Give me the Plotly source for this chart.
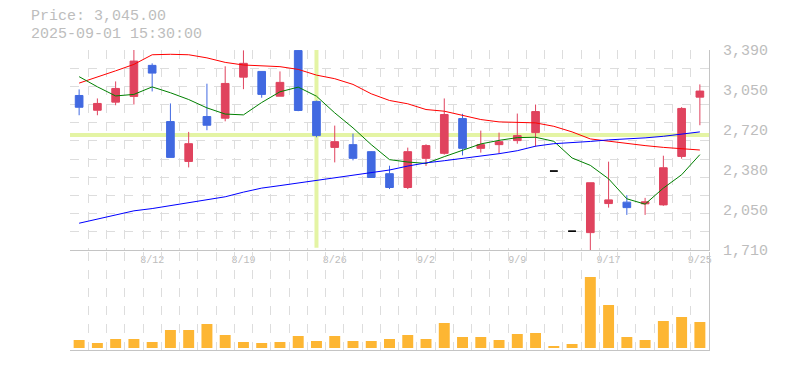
import plotly.graph_objects as go

# ---------------- data ----------------
dates = ["8/5", "8/6", "8/7", "8/8", "8/12", "8/13", "8/14", "8/15", "8/18", "8/19",
         "8/20", "8/21", "8/22", "8/25", "8/26", "8/27", "8/28", "8/29", "9/1", "9/2",
         "9/3", "9/4", "9/5", "9/8", "9/9", "9/10", "9/11", "9/12", "9/16", "9/17",
         "9/18", "9/19", "9/22", "9/24", "9/25"]

opens  = [3008, 2884, 2952, 3000, 3261, 2789, 2454, 2831, 2817, 3162,
          3210, 3002, 3385, 2958, 2572, 2595, 2536, 2351, 2235, 2480,
          2522, 2814, 2564, 2595, 2629, 2696, 2373, 1868, 1856, 2100,
          2112, 2098, 2089, 2496, 2994]
highs  = [3059, 2983, 3126, 3420, 3278, 2941, 2702, 3107, 3253, 3387,
          3210, 3210, 3400, 2965, 2755, 2688, 2540, 2418, 2570, 2598,
          2983, 2854, 2713, 2696, 2856, 2932, 2373, 1868, 2275, 2452,
          2171, 2148, 2502, 2910, 3101]
lows   = [2842, 2842, 2926, 2932, 3042, 2488, 2404, 2716, 2791, 3061,
          2989, 3002, 2876, 2657, 2446, 2463, 2315, 2222, 2222, 2416,
          2511, 2505, 2528, 2522, 2603, 2578, 2373, 1868, 1700, 2066,
          2005, 2005, 2081, 2477, 2758]
closes = [2909, 2941, 3067, 3297, 3196, 2488, 2603, 2758, 3109, 3278,
          3017, 3118, 2882, 2671, 2620, 2480, 2319, 2235, 2536, 2587,
          2848, 2564, 2595, 2620, 2671, 2873, 2373, 1868, 2275, 2131,
          2066, 2115, 2401, 2899, 3045]

ma_short = [3166, 3081, 3004, 3017, 3080, 3031, 2974, 2904, 2852, 2845,
            2949, 3039, 3078, 3002, 2862, 2736, 2595, 2469, 2449, 2437,
            2494, 2545, 2601, 2631, 2654, 2657, 2623, 2483, 2421, 2308,
            2140, 2095, 2230, 2342, 2511]
ma_mid   = [3112, 3162, 3215, 3269, 3350, 3354, 3350, 3324, 3286, 3264,
            3255, 3250, 3227, 3179, 3149, 3101, 3022, 2966, 2938, 2890,
            2876, 2840, 2806, 2786, 2781, 2778, 2749, 2702, 2643, 2623,
            2604, 2587, 2572, 2561, 2550]
ma_long  = [1935, 1969, 2009, 2039, 2058, 2083, 2106, 2129, 2157, 2196,
            2230, 2251, 2273, 2297, 2319, 2342, 2363, 2382, 2415, 2442,
            2460, 2479, 2498, 2519, 2544, 2582, 2603, 2610, 2622, 2635,
            2641, 2652, 2665, 2681, 2702]

volume = [80, 50, 90, 90, 60, 180, 180, 240, 130, 60,
          50, 60, 120, 70, 120, 70, 70, 90, 130, 90,
          250, 110, 110, 80, 140, 150, 20, 40, 710, 430,
          110, 80, 270, 310, 260]

flat_days = [26, 27]          # no-range sessions drawn as black dashes

x_tick_idx = [4, 9, 14, 19, 24, 29, 34]
x_tick_labels = [dates[i] for i in x_tick_idx]

y_min, y_max = 1710, 3390
y_tick_vals = [1710, 2046, 2382, 2718, 3054, 3390]
y_tick_labels = ["1,710", "2,050", "2,380", "2,720", "3,050", "3,390"]

cross_idx = 13
cross_price = 2677
info_price = "Price: 3,045.00"
info_time = "2025-09-01 15:30:00"

# ---------------- styles ----------------
FONT = "Liberation Mono"
GRAY_TXT = "#bdbdbd"
GRID = "#dddddd"
AXLINE = "#c4c4c4"
UP = "#e0435e"
DOWN = "#4169e1"
VOL = "#fdb633"
CROSS = "#e4f4a4"

n = len(dates)
xs = list(range(n))
main_idx = [i for i in xs if i not in flat_days]

fig = go.Figure()

fig.add_trace(go.Scatter(x=xs, y=ma_mid, mode="lines", line=dict(color="#ff0000", width=1),
                         xaxis="x", yaxis="y", hoverinfo="skip"))
fig.add_trace(go.Scatter(x=xs, y=ma_short, mode="lines", line=dict(color="#008000", width=1),
                         xaxis="x", yaxis="y", hoverinfo="skip"))
fig.add_trace(go.Scatter(x=xs, y=ma_long, mode="lines", line=dict(color="#0000ff", width=1),
                         xaxis="x", yaxis="y", hoverinfo="skip"))

fig.add_trace(go.Candlestick(
    x=main_idx,
    open=[opens[i] for i in main_idx], high=[highs[i] for i in main_idx],
    low=[lows[i] for i in main_idx], close=[closes[i] for i in main_idx],
    increasing=dict(line=dict(color=UP, width=1), fillcolor=UP),
    decreasing=dict(line=dict(color=DOWN, width=1), fillcolor=DOWN),
    whiskerwidth=0, xaxis="x", yaxis="y", hoverinfo="skip"))

fig.add_trace(go.Candlestick(
    x=flat_days,
    open=[opens[i] for i in flat_days], high=[highs[i] for i in flat_days],
    low=[lows[i] for i in flat_days], close=[closes[i] for i in flat_days],
    increasing=dict(line=dict(color="#000000", width=1), fillcolor="#000000"),
    decreasing=dict(line=dict(color="#000000", width=1), fillcolor="#000000"),
    whiskerwidth=0, xaxis="x", yaxis="y", hoverinfo="skip"))

fig.add_trace(go.Bar(x=xs, y=volume, marker=dict(color=VOL, line=dict(width=0)),
                     width=0.6, xaxis="x2", yaxis="y2", hoverinfo="skip"))

boundaries = [i - 0.5 for i in range(n + 1)]
ygrid = [y_min + k * (y_max - y_min) / 11 for k in range(12)]

# the page body has an 8px default margin: margins compensate so the plot area
# sits where the reference puts it
fig.update_layout(
    width=785, height=370,
    margin=dict(l=62, r=84, t=42, b=28),
    paper_bgcolor="white", plot_bgcolor="white",
    showlegend=False, hovermode=False,
    boxgap=0.4,
    font=dict(family=FONT, color=GRAY_TXT),
    xaxis=dict(
        domain=[0, 1], anchor="y", range=[-0.5, n - 0.5],
        tickmode="array", tickvals=x_tick_idx, ticktext=x_tick_labels,
        tickfont=dict(size=10, family=FONT, color=GRAY_TXT),
        ticks="", showgrid=False, zeroline=False,
        showline=True, linecolor=AXLINE, linewidth=1,
        minor=dict(tickmode="array", tickvals=boundaries, showgrid=True,
                   gridcolor=GRID, griddash="dash", gridwidth=1, ticks=""),
        rangeslider=dict(visible=False), fixedrange=True,
    ),
    yaxis=dict(
        domain=[1 / 3, 1], anchor="x", side="right", range=[y_min, y_max],
        tickmode="array", tickvals=y_tick_vals, ticktext=y_tick_labels,
        tickfont=dict(size=15, family=FONT, color=GRAY_TXT),
        ticks="", ticklabelstandoff=10,
        showgrid=False, zeroline=False,
        showline=True, linecolor=AXLINE, linewidth=1,
        minor=dict(tickmode="array", tickvals=ygrid, showgrid=True,
                   gridcolor=GRID, griddash="dash", gridwidth=1, ticks=""),
        fixedrange=True,
    ),
    xaxis2=dict(
        domain=[0, 1], anchor="y2", range=[-0.5, n - 0.5], matches="x",
        showticklabels=False, ticks="", showgrid=False, zeroline=False,
        showline=True, linecolor=AXLINE, linewidth=1,
        minor=dict(tickmode="array", tickvals=boundaries, showgrid=True,
                   gridcolor=GRID, griddash="dash", gridwidth=1, ticks=""),
        fixedrange=True,
    ),
    yaxis2=dict(
        domain=[0, 0.3267], anchor="x2", side="right", range=[-20, 960],
        showticklabels=False, ticks="", showgrid=False, zeroline=False,
        showline=True, linecolor=AXLINE, linewidth=1, fixedrange=True,
    ),
    shapes=[
        dict(type="line", xref="x", yref="y", x0=cross_idx, x1=cross_idx,
             y0=y_min + 18, y1=y_max, line=dict(color=CROSS, width=4), layer="below"),
        dict(type="line", xref="x", yref="y", x0=-0.5, x1=n - 0.5,
             y0=cross_price, y1=cross_price, line=dict(color=CROSS, width=4), layer="below"),
    ],
    annotations=[
        dict(text=info_price, xref="paper", yref="paper", x=-0.064, y=1.11,
             xanchor="left", yanchor="middle", showarrow=False,
             font=dict(size=15, family=FONT, color=GRAY_TXT)),
        dict(text=info_time, xref="paper", yref="paper", x=-0.064, y=1.053,
             xanchor="left", yanchor="middle", showarrow=False,
             font=dict(size=15, family=FONT, color=GRAY_TXT)),
    ],
)

fig.write_html("out.html")
